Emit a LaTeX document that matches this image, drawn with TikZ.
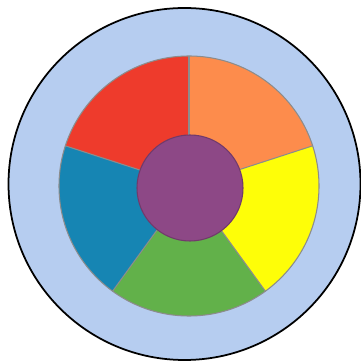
\documentclass[tikz,border=0pt]{standalone}
\usepackage{xcolor}
\usetikzlibrary{calc}

\definecolor{ringblue}{HTML}{B6CDF0}
\definecolor{segred}{HTML}{EE3B2C}
\definecolor{segorange}{HTML}{FD8C4C}
\definecolor{segyellow}{HTML}{FEFE08}
\definecolor{seggreen}{HTML}{62B14A}
\definecolor{segblue}{HTML}{1685B3}
\definecolor{hubpurple}{HTML}{8D4886}

\begin{document}
\begin{tikzpicture}[
    x=1mm, y=1mm,
    ring/.style={draw=black, line width=0.5pt, fill=ringblue},
    segment/.style={draw=black!45, line width=0.3pt},
    hub/.style={draw=hubpurple!80!black, line width=0.3pt, fill=hubpurple},
]
\useasboundingbox (0,0) rectangle (36.1,36.1);

% --- Outer ring ---
\draw[ring] (18.45,17.7) circle (17.6);

% --- Pie segments ---
\coordinate (pc) at (18.9,17.5);
\foreach \start/\col in {18/segorange, 90/segred, 162/segblue, 234/seggreen, 306/segyellow}{
    \fill[\col] (pc) -- ++(\start:13) arc[start angle=\start, delta angle=72, radius=13] -- cycle;
}
\draw[segment] (pc) circle (13);
\foreach \ang in {18, 90, 162, 234, 306}{
    \draw[segment] (pc) -- ++(\ang:13);
}

% --- Centre hub ---
\draw[hub] (19.0,17.3) circle (5.3);

\end{tikzpicture}
\end{document}
